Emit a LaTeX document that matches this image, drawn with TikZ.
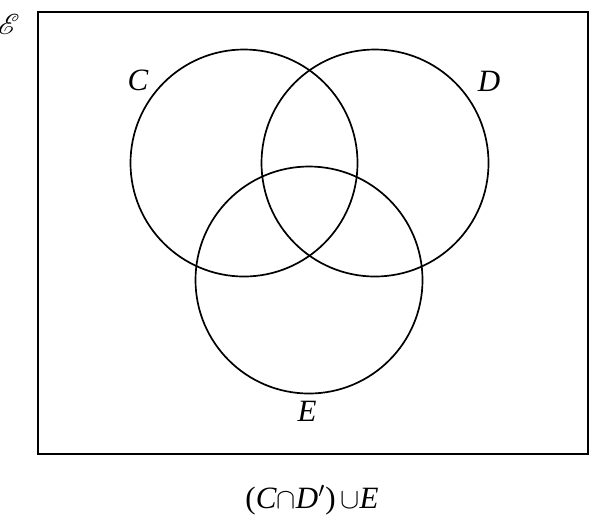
\documentclass[tikz,border=0pt]{standalone}
\usepackage{fontspec}
\setmainfont{Liberation Serif}
\usepackage{mathrsfs}
\usepackage{tikz}
\usepackage{xcolor}

\begin{document}
\begin{tikzpicture}[x = 0.5pt, y = -0.5pt,
        set/.style = {draw, circle, line width = 0.85pt, minimum size = 113.5pt},
        lbl/.style = {font = \fontsize{15.5}{18}\selectfont\itshape, inner sep = 0pt}]
        \useasboundingbox (0, 0) rectangle (613, 526);
        % Universal set
        \node [draw, rectangle, line width = 1.35pt, minimum width = 275pt, minimum height = 221pt] (u) at (313, 233) {};
        \node [lbl] (ul) at (9, 24) {$\mathscr{E}$};
        % Sets
        \node [set] (c) at (244, 163) {};
        \node [set] (d) at (375, 163) {};
        \node [set] (e) at (309, 280) {};
        % Labels
        \node [lbl] (cl) at (138, 80) {C};
        \node [lbl] (dl) at (489, 81) {D};
        \node [lbl] (el) at (307, 411) {E};
        \node [lbl, font = \fontsize{15.5}{18}\selectfont] (cap) at (312, 500) {(\textit{C}$\cap$\textit{D}$'$)$\,\cup$\textit{E}};
    \end{tikzpicture}
\end{document}
